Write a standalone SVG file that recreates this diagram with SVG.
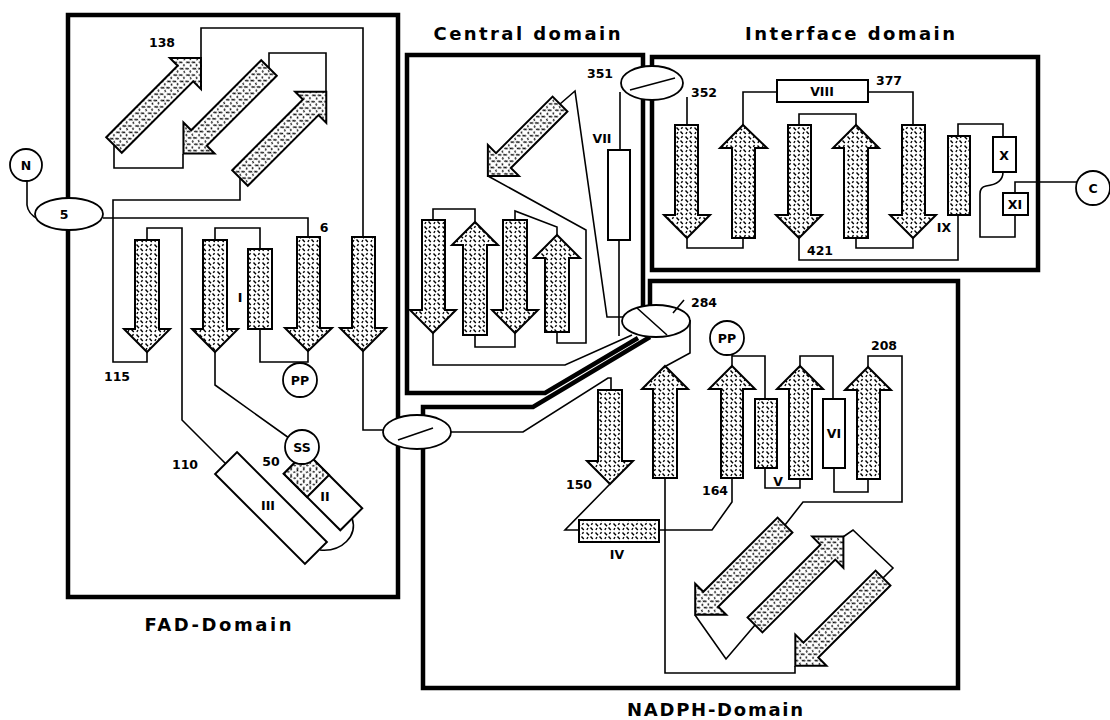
<svg xmlns="http://www.w3.org/2000/svg" width="1110" height="720" viewBox="0 0 1110 720">
<defs>
<pattern id="hatch" width="9" height="9" patternUnits="userSpaceOnUse">
<rect width="9" height="9" fill="#fff"/>
<path d="M1.5,1.5 L4,4.2 M5.5,5.5 L7.8,8 M7.6,1.2 L6.2,2.8 M3,6.2 L1.8,7.8" stroke="#000" stroke-width="1.4" fill="none"/>
</pattern>
<style>
.box{fill:none;stroke:#000;stroke-width:4.5}
.ln{fill:none;stroke:#000;stroke-width:1.6}
.st{fill:url(#hatch);stroke:#000;stroke-width:2;stroke-linejoin:miter}
.hx{fill:#fff;stroke:#000;stroke-width:2}
.ci{fill:#fff;stroke:#000;stroke-width:1.8}
.t{font-family:'DejaVu Sans','Liberation Sans',sans-serif;font-weight:bold;font-size:12.5px;text-anchor:middle;fill:#000}
.ttl{font-size:18px}
</style>
</defs>
<rect width="1110" height="720" fill="#fff"/>

<g id="domain-boxes">
<path class="box" d="M68,15 H398 V597 H68 Z"/>
<path class="box" d="M643,306 V55 H407 V393 H545 L638,338"/>
<path class="box" d="M652,57 H1038 V270 H652 Z"/>
<path class="box" d="M650,306 V281 H958 V688 H423 V407 H533 L650,337"/>
</g>

<g id="connectors">
<path class="ln" d="M27,181 L27,205 Q28,214 38,219"/>
<path class="ln" d="M103,218 H308 V237"/>
<path class="ln" d="M147,352 V362 H113 V200 H240 V178"/>
<path class="ln" d="M147,240 V228 H182 V420 L226,464"/>
<path class="ln" d="M215,240 V228 H260 V249"/>
<path class="ln" d="M260,329 V362 H308 V351"/>
<path class="ln" d="M215,352 V385 L289,438"/>
<path class="ln" d="M363,237 V28 H201 V58"/>
<path class="ln" d="M363,351 V430 H384"/>
<path class="ln" d="M114,145 V168 H183 V154"/>
<path class="ln" d="M269,68 V53 H326 V92"/>
<path class="ln" d="M352,518 C358,536 342,552 320,550"/>
<path class="ln" d="M620,150 V92"/>
<path class="ln" d="M560,104 L575,91 L607,317 H623"/>
<path class="ln" d="M488,176 L586,230 V343 H557 V332"/>
<path class="ln" d="M433,220 V209 H475 V222"/>
<path class="ln" d="M475,335 V347 H515 V333"/>
<path class="ln" d="M515,220 V211 L557,227 V235"/>
<path class="ln" d="M433,333 V365 H565 L632,335"/>
<path class="ln" d="M619,240 V336"/>
<path class="ln" d="M451,432 H523 L608,378 H611 V390"/>
<path class="ln" d="M610,484 L565,530 H579"/>
<path class="ln" d="M659,530 H712 L732,502 V478"/>
<path class="ln" d="M665,478 V673 H795 V666"/>
<path class="ln" d="M666,366 L690,353 V320"/>
<path class="ln" d="M732,366 V355"/>
<path class="ln" d="M732,356 H765 V399"/>
<path class="ln" d="M765,468 V488 H800 V479"/>
<path class="ln" d="M800,366 V356 H833 V399"/>
<path class="ln" d="M834,468 V492 H868 V479"/>
<path class="ln" d="M868,367 V356 H902 V502 H803 L785,525"/>
<path class="ln" d="M695,615 L726,659 L755,625"/>
<path class="ln" d="M843,537 L853,530 L893,568 L883,578"/>
<path class="ln" d="M687,97 V125"/>
<path class="ln" d="M687,238 V248 H743 V238"/>
<path class="ln" d="M743,125 V92 H777"/>
<path class="ln" d="M868,92 H913 V125"/>
<path class="ln" d="M913,238 V248 H856 V238"/>
<path class="ln" d="M856,125 V114 H799 V125"/>
<path class="ln" d="M799,238 V260 H958 V215"/>
<path class="ln" d="M958,136 V124 H1003 V137"/>
<path class="ln" d="M1003,172 Q1003,184 986,186 Q980,187 980,194 V237 H1015 V215"/>
<path class="ln" d="M1015,193 V182 H1077"/>
</g>

<!-- FAD domain -->
<g id="N"><circle class="ci" cx="26" cy="165" r="16"/><text class="t" x="26" y="170">N</text></g>
<g id="res5"><ellipse class="ci" cx="69" cy="214" rx="34" ry="16"/><text class="t" x="64" y="219">5</text></g>
<g id="fad-strandA"><polygon class="st" transform="translate(114,145) rotate(-45)" points="0,-11 101,-11 101,-22 123,0 101,22 101,11 0,11"/></g>
<g id="fad-strandB"><polygon class="st" transform="translate(269,68) rotate(135)" points="0,-11 99,-11 99,-22 121,0 99,22 99,11 0,11"/></g>
<g id="fad-strandC"><polygon class="st" transform="translate(240,178) rotate(-45)" points="0,-11 100,-11 100,-22 122,0 100,22 100,11 0,11"/></g>
<g id="fad-a1"><polygon class="st" points="135,240 159,240 159,329 170,329 147,352 124,329 135,329"/></g>
<g id="fad-a2"><polygon class="st" points="203,240 227,240 227,329 238,329 215,352 192,329 203,329"/></g>
<g id="helixI"><rect class="st" x="248" y="249" width="24" height="80"/><text class="t" x="240" y="302">I</text></g>
<g id="fad-a3"><polygon class="st" points="297,237 320,237 320,328 332,328 308,351 285,328 297,328"/></g>
<g id="fad-a4"><polygon class="st" points="352,237 375,237 375,328 386,328 363,351 340,328 352,328"/></g>
<g id="PP1"><circle class="ci" cx="300" cy="380" r="17"/><text class="t" x="300" y="385">PP</text></g>
<g id="helixIII"><rect class="hx" transform="translate(271,508) rotate(45)" x="-63.5" y="-15.5" width="127" height="31"/><text class="t" x="268" y="510">III</text></g>
<g id="helixII">
<g transform="translate(323,491) rotate(45)">
<rect class="hx" x="-40" y="-15.5" width="80" height="31"/>
<rect class="st" x="-40" y="-15.5" width="33" height="31"/>
</g>
<text class="t" x="325" y="501">II</text></g>
<g id="SS"><circle class="ci" cx="302" cy="447" r="17"/><text class="t" x="302" y="452">SS</text></g>

<!-- Central domain -->
<g id="cen-strand"><polygon class="st" transform="translate(560,104) rotate(135)" points="0,-10.5 80,-10.5 80,-22 102,0 80,22 80,10.5 0,10.5"/></g>
<g id="cen-a1"><polygon class="st" points="422,220 445,220 445,310 456,310 433,333 410,310 422,310"/></g>
<g id="cen-a2"><polygon class="st" points="463,335 487,335 487,245 498,245 475,222 452,245 463,245"/></g>
<g id="cen-a3"><polygon class="st" points="503,220 527,220 527,310 538,310 515,333 492,310 503,310"/></g>
<g id="cen-a4"><polygon class="st" points="545,332 569,332 569,258 580,258 557,235 534,258 545,258"/></g>
<g id="helixVII"><rect class="hx" x="608" y="150" width="22" height="90"/><text class="t" x="602" y="143">VII</text></g>

<!-- Interface domain -->
<g id="if-a1"><polygon class="st" points="675,125 698,125 698,215 710,215 687,238 664,215 675,215"/></g>
<g id="if-a2"><polygon class="st" points="732,238 755,238 755,148 767,148 743,125 720,148 732,148"/></g>
<g id="if-a3"><polygon class="st" points="788,125 811,125 811,215 822,215 799,238 776,215 788,215"/></g>
<g id="if-a4"><polygon class="st" points="844,238 868,238 868,148 879,148 856,125 833,148 844,148"/></g>
<g id="if-a5"><polygon class="st" points="902,125 925,125 925,215 936,215 913,238 890,215 902,215"/></g>
<g id="helixVIII"><rect class="hx" x="777" y="80" width="91" height="22"/><text class="t" x="822" y="96">VIII</text></g>
<g id="helixIX"><rect class="st" x="948" y="136" width="22" height="79"/><text class="t" x="944" y="232">IX</text></g>
<g id="helixX"><rect class="hx" x="993" y="137" width="23" height="35"/><text class="t" x="1004" y="160">X</text></g>
<g id="helixXI"><rect class="hx" x="1003" y="193" width="25" height="22"/><text class="t" x="1015" y="209">XI</text></g>
<g id="C"><circle class="ci" cx="1093" cy="188" r="17"/><text class="t" x="1093" y="193">C</text></g>

<!-- NADPH domain -->
<g id="nad-a0"><polygon class="st" points="598,390 622,390 622,461 633,461 610,484 587,461 598,461"/></g>
<g id="nad-a1"><polygon class="st" points="653,478 677,478 677,389 688,389 665,366 642,389 653,389"/></g>
<g id="nad-a2"><polygon class="st" points="721,478 743,478 743,389 755,389 732,366 709,389 721,389"/></g>
<g id="helixV"><rect class="st" x="755" y="399" width="22" height="69"/><text class="t" x="778" y="486">V</text></g>
<g id="nad-a3"><polygon class="st" points="789,479 812,479 812,389 823,389 800,366 777,389 789,389"/></g>
<g id="helixVI"><rect class="hx" x="823" y="399" width="22" height="69"/><text class="t" x="834" y="438">VI</text></g>
<g id="nad-a4"><polygon class="st" points="857,479 880,479 880,390 891,390 868,367 845,390 857,390"/></g>
<g id="PP2"><circle class="ci" cx="727" cy="338" r="17"/><text class="t" x="727" y="343">PP</text></g>
<g id="helixIV"><rect class="st" x="579" y="520" width="80" height="22"/><text class="t" x="617" y="559">IV</text></g>
<g id="nad-D1"><polygon class="st" transform="translate(785,525) rotate(135)" points="0,-10.5 105,-10.5 105,-22 127,0 105,22 105,10.5 0,10.5"/></g>
<g id="nad-D2"><polygon class="st" transform="translate(755,625) rotate(-45)" points="0,-10.5 103,-10.5 103,-22 125,0 103,22 103,10.5 0,10.5"/></g>
<g id="nad-D3"><polygon class="st" transform="translate(883,578) rotate(135)" points="0,-10.5 102,-10.5 102,-22 124,0 102,22 102,10.5 0,10.5"/></g>

<!-- crossover ellipses -->
<g id="cross-351"><ellipse class="ci" cx="652" cy="83" rx="31" ry="17"/><path class="ln" d="M630,90 L675,78"/></g>
<g id="cross-284"><ellipse class="ci" cx="656" cy="321" rx="34" ry="16"/><path class="ln" d="M637,308 L667,335 M673,313 L684,300"/></g>
<g id="cross-low"><ellipse class="ci" cx="417" cy="432" rx="34" ry="17"/><path class="ln" d="M398,440 L433,428"/></g>

<g id="labels">
<text class="t" x="162" y="47">138</text>
<text class="t" x="324" y="232">6</text>
<text class="t" x="117" y="381">115</text>
<text class="t" x="185" y="469">110</text>
<text class="t" x="271" y="466">50</text>
<text class="t" x="600" y="78">351</text>
<text class="t" x="704" y="97">352</text>
<text class="t" x="889" y="85">377</text>
<text class="t" x="820" y="255">421</text>
<text class="t" x="704" y="307">284</text>
<text class="t" x="579" y="489">150</text>
<text class="t" x="715" y="495">164</text>
<text class="t" x="884" y="350">208</text>
<text class="t ttl" x="527" y="40" textLength="187" lengthAdjust="spacing">Central domain</text>
<text class="t ttl" x="850" y="40" textLength="210" lengthAdjust="spacing">Interface domain</text>
<text class="t ttl" x="218" y="631" textLength="147" lengthAdjust="spacing">FAD-Domain</text>
<text class="t ttl" x="715" y="716" textLength="176" lengthAdjust="spacing">NADPH-Domain</text>
</g>
</svg>
